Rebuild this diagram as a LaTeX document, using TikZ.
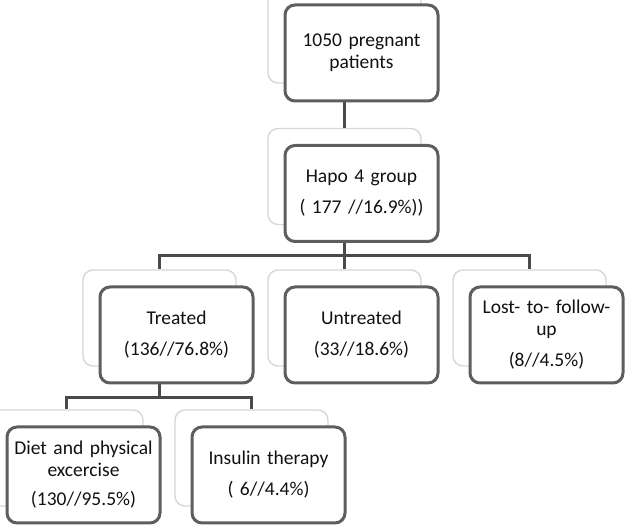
\documentclass[tikz,border=0pt]{standalone}
\usepackage{fontspec}
\setmainfont{Carlito}
\definecolor{boxline}{HTML}{5E5E5E}
\definecolor{linkline}{HTML}{4A4A4A}
\definecolor{ghostline}{HTML}{D6D6D6}
\definecolor{txt}{HTML}{111111}
\tikzset{
  box/.style={draw=boxline, line width=3pt, fill=white, rounded corners=10pt,
    minimum width=153pt, minimum height=96pt, text width=145pt, align=center,
    inner sep=0pt, text=txt, font=\fontsize{19.5}{22}\selectfont},
  ghost/.style={draw=ghostline, line width=1.4pt, fill=white, rounded corners=10pt,
    minimum width=153pt, minimum height=96pt, inner sep=0pt},
  link/.style={draw=linkline, line width=3pt}
}
\begin{document}
\begin{tikzpicture}[x=1pt,y=-1pt]
      \useasboundingbox (0,0) rectangle (630,526);
      \path
        (344.5,35) node[ghost] (spat){}
        (344.5,176.5) node[ghost] (shapo){}
        (159.5,318) node[ghost] (streat){}
        (344.5,318) node[ghost] (suntr){}
        (529.5,318) node[ghost] (slost){}
        (66.5,458) node[ghost] (sdiet){}
        (251.5,458) node[ghost] (sinsu){};
      \coordinate (bus1) at (344.5,256);
      \coordinate (bus2) at (159.5,398);
      \begin{scope}[link]
        \draw (spat) -- (shapo);
        \draw (shapo) -- (bus1);
        \draw (streat) |- (bus1) -| (slost);
        \draw (suntr) -- (bus1);
        \draw (streat) -- (bus2);
        \draw (sdiet) |- (bus2) -| (sinsu);
      \end{scope}
      \path
        (361.5,53) node[box] (pat){1050 pregnant\\patients}
        (361.5,193.5) node[box] (hapo){Hapo 4 group\\[9pt]( 177 //16.9\%))}
        (176.5,335) node[box] (treat){Treated\\[9pt](136//76.8\%)}
        (361.5,335) node[box] (untr){Untreated\\[9pt](33//18.6\%)}
        (546.5,335) node[box] (lost){Lost- to- follow-\\up\\[9pt](8//4.5\%)}
        (83.5,475) node[box] (diet){Diet and physical\\excercise\\[7pt](130//95.5\%)}
        (268.5,475) node[box] (insu){Insulin therapy\\[9pt]( 6//4.4\%)};
    \end{tikzpicture}
\end{document}
